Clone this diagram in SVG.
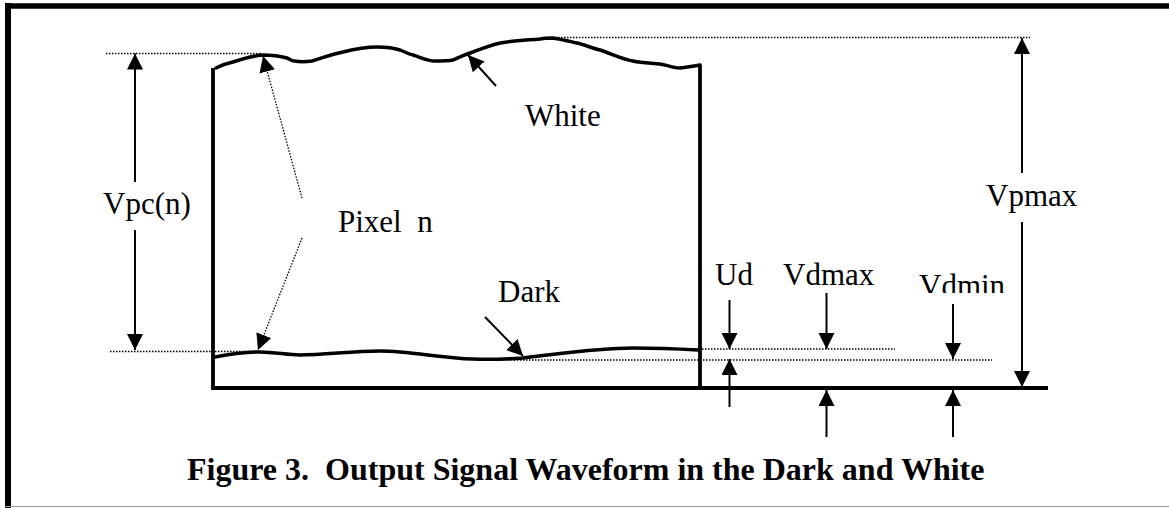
<svg xmlns="http://www.w3.org/2000/svg" width="1169" height="508" viewBox="0 0 1169 508">
<style>
.lbl{font-family:"Liberation Serif","Times New Roman",serif;font-size:31px;fill:#000}
.cap{font-family:"Liberation Serif","Times New Roman",serif;font-size:32px;font-weight:bold;fill:#000;white-space:pre}
.thick{stroke:#000;stroke-width:3.8;fill:none}
.wave{stroke:#000;stroke-width:3.5;fill:none;stroke-linecap:round;stroke-linejoin:round}
.dot{stroke:#000;stroke-width:1.3;stroke-dasharray:1.5 1.5;fill:none}
.arr{stroke:#000;stroke-width:2;fill:none;marker-end:url(#ah)}
.darr{stroke:#000;stroke-width:1.3;stroke-dasharray:1.5 1.5;fill:none;marker-end:url(#ah)}
</style>
<defs>
<marker id="ah" markerUnits="userSpaceOnUse" markerWidth="17" markerHeight="17" refX="16" refY="8" orient="auto">
<path d="M0,0 L16,8 L0,16 z" fill="#000"/>
</marker>
<clipPath id="clipVdmin"><rect x="900" y="260" width="140" height="33"/></clipPath>
</defs>
<rect width="1169" height="508" fill="#fff"/>
<g id="frame">
<line x1="5" y1="6" x2="1169" y2="6" stroke="#000" stroke-width="5.5"/>
<line x1="8" y1="3" x2="8" y2="508" stroke="#000" stroke-width="6"/>
<line x1="5" y1="506.5" x2="1169" y2="506.5" stroke="#999" stroke-width="1.2"/>
</g>
<g id="pulse">
<polyline class="thick" points="213,68 213,388 1048,388"/>
<line class="thick" x1="700" y1="65" x2="700" y2="388"/>
<path class="wave" d="M216,68 C222,65 228,63 233,62 C242,59 252,56 262,55 C272,55 280,56 287,58 C290,59 291,61 294,61 C300,62 305,62 312,61 C322,58 332,54 343,52 C355,49 365,47 377,47 C388,47 394,48 400,50 C405,52 409,54 413,55 C420,57 427,61 435,61 C442,61 448,61 453,60 C460,57 466,54 473,52 C484,48 495,43 507,42 C520,40 530,40 540,39 C545,38 549,38 552,38 C560,39 568,41 577,43 C585,45 592,48 600,50 C612,54 622,59 633,61 C642,63 650,63 660,64 C667,65 673,68 680,68 C688,67 694,66 700,65"/>
<path class="wave" d="M215,357 C230,354 245,352 260,352 C275,352 287,355 300,355 C325,355 352,351 380,351 C410,351 440,358 473,359 C490,360 507,359 523,358 C560,354 595,348 633,348 C660,348 680,349 698,350"/>
</g>
<g id="dotted-guides">
<line class="dot" x1="106" y1="53.5" x2="262" y2="53.5"/>
<line class="dot" x1="543" y1="37.5" x2="1030" y2="37.5"/>
<line class="dot" x1="110" y1="351.5" x2="258" y2="351.5"/>
<line class="dot" x1="702" y1="349" x2="895" y2="349"/>
<line class="dot" x1="478" y1="360" x2="992" y2="360"/>
</g>
<g id="connectors">
<line class="arr" x1="135" y1="182" x2="135" y2="53.5"/>
<line class="arr" x1="135" y1="230" x2="135" y2="350"/>
<line class="arr" x1="1022" y1="173" x2="1022" y2="38"/>
<line class="arr" x1="1022" y1="222" x2="1022" y2="387"/>
<line class="arr" x1="496" y1="86" x2="468" y2="55"/>
<line class="arr" x1="485" y1="317" x2="523" y2="356"/>
<line class="darr" x1="302" y1="198" x2="263" y2="56"/>
<line class="darr" x1="302" y1="238" x2="258" y2="350"/>
<line class="arr" x1="729.5" y1="300" x2="729.5" y2="349"/>
<line class="arr" x1="729.5" y1="407" x2="729.5" y2="359"/>
<line class="arr" x1="826.5" y1="293" x2="826.5" y2="349"/>
<line class="arr" x1="826.5" y1="437" x2="826.5" y2="390"/>
<line class="arr" x1="953" y1="304" x2="953" y2="359"/>
<line class="arr" x1="953" y1="437" x2="953" y2="390"/>
</g>
<g id="label-vpcn"><text class="lbl" x="103" y="214">Vpc(n)</text></g>
<g id="label-pixel"><text class="lbl" x="338" y="232" xml:space="preserve">Pixel  n</text></g>
<g id="label-white"><text class="lbl" x="525" y="126">White</text></g>
<g id="label-dark"><text class="lbl" x="498" y="302">Dark</text></g>
<g id="label-vpmax"><text class="lbl" x="986" y="206">Vpmax</text></g>
<g id="label-ud"><text class="lbl" x="715" y="285">Ud</text></g>
<g id="label-vdmax"><text class="lbl" x="783" y="285">Vdmax</text></g>
<g id="label-vdmin"><text class="lbl" x="919" y="296" clip-path="url(#clipVdmin)">Vdmin</text></g>
<g id="caption"><text class="cap" x="187" y="480">Figure 3.  Output Signal Waveform in the Dark and White</text></g>
</svg>
